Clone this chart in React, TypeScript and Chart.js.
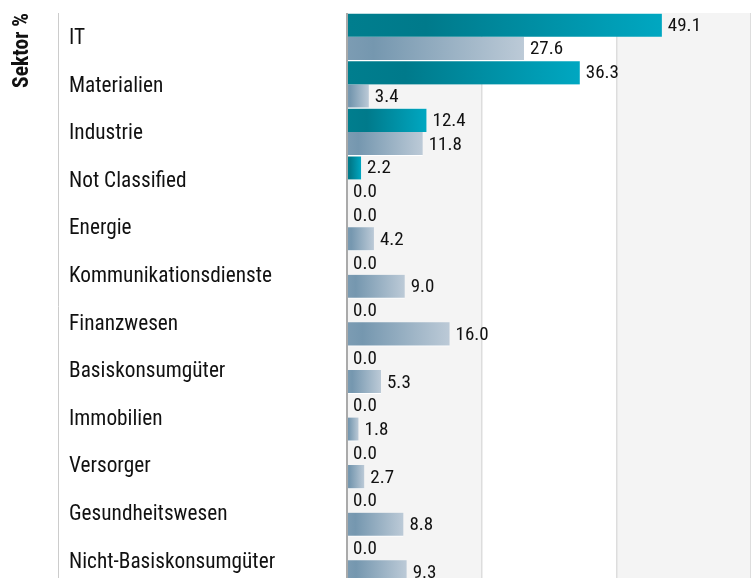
import React, { useEffect, useRef } from "react";
import { Chart, registerables } from "chart.js";

Chart.register(...registerables);

const categories = [
  "IT",
  "Materialien",
  "Industrie",
  "Not Classified",
  "Energie",
  "Kommunikationsdienste",
  "Finanzwesen",
  "Basiskonsumgüter",
  "Immobilien",
  "Versorger",
  "Gesundheitswesen",
  "Nicht-Basiskonsumgüter",
];
const fundValues = [49.1, 36.3, 12.4, 2.2, 0, 0, 0, 0, 0, 0, 0, 0];
const benchmarkValues = [27.6, 3.4, 11.8, 0, 4.2, 9.0, 16.0, 5.3, 1.8, 2.7, 8.8, 9.3];
const axisTitle = "Sektor %";
const xMax = 63;
const xStep = 21;

const FONT = "'Roboto Condensed', Roboto, sans-serif";

function gradientFor(chart: any, value: number, stops: [number, string][], fallback: string) {
  const x = chart.scales?.x;
  if (!chart.chartArea || !x) return fallback;
  const x0 = x.getPixelForValue(0);
  const x1 = x.getPixelForValue(value);
  if (x1 - x0 < 1) return fallback;
  const g = chart.ctx.createLinearGradient(x0, 0, x1, 0);
  stops.forEach(([o, c]) => g.addColorStop(o, c));
  return g;
}

const fundStops: [number, string][] = [
  [0, "#007e8e"],
  [0.25, "#007a8b"],
  [1, "#00a7c1"],
];
const benchStops: [number, string][] = [
  [0, "#7c9cb3"],
  [0.15, "#7597af"],
  [1, "#bccad7"],
];

const bandsPlugin = {
  id: "bands",
  beforeDraw(chart: any) {
    const { ctx, chartArea, scales } = chart;
    const x = scales.x;
    const ticks = x.ticks.map((t: any) => t.value);
    ctx.save();
    for (let i = 0; i < ticks.length - 1; i++) {
      if (i % 2 === 0) {
        const a = x.getPixelForValue(ticks[i]);
        const b = x.getPixelForValue(ticks[i + 1]);
        ctx.fillStyle = "#f4f4f4";
        ctx.fillRect(a, chartArea.top, b - a, chart.height - chartArea.top);
      }
    }
    const y = scales.y;
    ctx.strokeStyle = "#cccccc";
    ctx.lineWidth = 1;
    ctx.beginPath();
    ctx.moveTo(y.left - 10.5, chartArea.top);
    ctx.lineTo(y.left - 10.5, chart.height);
    ctx.stroke();
    ctx.fillStyle = "#111111";
    ctx.font = `bold 21.5px ${FONT}`;
    ctx.translate(y.left - 46, chartArea.top);
    ctx.rotate(-Math.PI / 2);
    ctx.textAlign = "right";
    ctx.textBaseline = "middle";
    ctx.fillText(axisTitle, 0, 0);
    ctx.restore();
  },
};

const valueLabels = {
  id: "valueLabels",
  afterDatasetsDraw(chart: any) {
    const { ctx } = chart;
    ctx.save();
    ctx.fillStyle = "#111111";
    ctx.font = `19px ${FONT}`;
    ctx.textAlign = "left";
    ctx.textBaseline = "middle";
    chart.data.datasets.forEach((ds: any, di: number) => {
      const meta = chart.getDatasetMeta(di);
      meta.data.forEach((el: any, i: number) => {
        const v = ds.data[i];
        ctx.fillText(Number(v).toFixed(1), el.x + 6, el.y + 1);
      });
    });
    ctx.restore();
  },
};

export default function App() {
  const ref = useRef<HTMLCanvasElement>(null);
  useEffect(() => {
    const chart = new Chart(ref.current!, {
      type: "bar",
      data: {
        labels: categories,
        datasets: [
          {
            label: "Fonds",
            data: fundValues,
            backgroundColor: (ctx: any) => gradientFor(ctx.chart, ctx.raw, fundStops, "#007d8e"),
            borderColor: "#ffffff",
            borderWidth: { top: 1, bottom: 0, left: 0, right: 0 },
            borderSkipped: false,
            barPercentage: 1,
            categoryPercentage: 1,
          },
          {
            label: "Benchmark",
            data: benchmarkValues,
            backgroundColor: (ctx: any) => gradientFor(ctx.chart, ctx.raw, benchStops, "#7e9db4"),
            borderColor: "#ffffff",
            borderWidth: { top: 0, bottom: 1, left: 0, right: 0 },
            borderSkipped: false,
            barPercentage: 1,
            categoryPercentage: 1,
          },
        ],
      },
      options: {
        indexAxis: "y",
        animation: false,
        responsive: false,
        maintainAspectRatio: false,
        layout: { padding: { top: 13, left: 69, right: 0, bottom: 16 } },
        plugins: { legend: { display: false }, tooltip: { enabled: false } },
        scales: {
          x: {
            min: 0,
            max: xMax,
            ticks: { display: false, stepSize: xStep },
            border: { display: false },
            grid: {
              drawTicks: false,
              color: (c: any) => (c.tick && c.tick.value === 0 ? "#aaaaaa" : "#dddddd"),
              lineWidth: (c: any) => (c.tick && c.tick.value === 0 ? 2 : 1.5),
            },
          },
          y: {
            border: { display: false },
            grid: { display: false, drawTicks: false },
            ticks: {
              crossAlign: "far",
              color: "#111111",
              font: { family: FONT, size: 21.3 },
              padding: 0,
              labelOffset: 2,
            },
            afterFit: (s: any) => {
              s.width = 278;
            },
          },
        },
      },
      plugins: [bandsPlugin, valueLabels],
    });
    return () => chart.destroy();
  }, []);
  return (
    <div>
      <style>{`body{margin:0;overflow:hidden}`}</style>
      <canvas ref={ref} width={751} height={600} style={{ display: "block" }} />
    </div>
  );
}
